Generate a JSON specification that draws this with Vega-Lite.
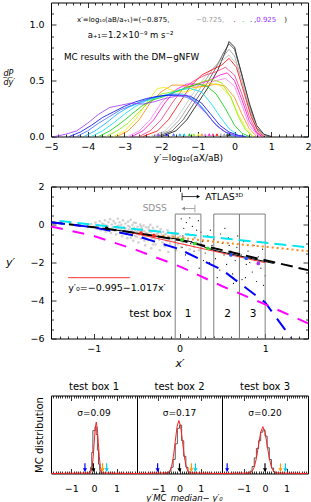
{
"$schema": "https://vega.github.io/schema/vega-lite/v6.json",
"padding": {"left": 2, "top": 1.5, "right": 0, "bottom": 0},
"bounds": "flush",
"spacing": 20,
"resolve": {"scale": {"color": "independent", "shape": "independent", "strokeDash": "independent"}},
"config": {
  "font": "DejaVu Sans",
  "view": {"stroke": "black", "strokeWidth": 1},
  "axis": {"domain": false, "grid": false, "labelFont": "DejaVu Sans", "labelFontSize": 9.5, "labelColor": "black", "tickColor": "black", "tickWidth": 0.8, "titleFont": "DejaVu Sans", "titleFontWeight": "normal", "titleColor": "black", "titleFontSize": 9, "labelFlush": false, "labelOverlap": false},
  "title": {"font": "DejaVu Sans", "fontWeight": "normal", "fontSize": 10, "color": "black"}
},
"vconcat": [
{
  "width": 257, "height": 134,
  "resolve": {"axis": {"x": "independent", "y": "independent"}},
  "layer": [
    {
      "data": {"values": [
{"c":"k0","x":-2.0,"y":0},{"c":"k0","x":-1.6,"y":0.05},{"c":"k0","x":-1.3,"y":0.15},{"c":"k0","x":-1.0,"y":0.3},{"c":"k0","x":-0.7,"y":0.45},{"c":"k0","x":-0.45,"y":0.6},{"c":"k0","x":-0.25,"y":0.76},{"c":"k0","x":-0.15,"y":0.85},{"c":"k0","x":0.0,"y":0.8},{"c":"k0","x":0.2,"y":0.55},{"c":"k0","x":0.4,"y":0.3},{"c":"k0","x":0.6,"y":0.1},{"c":"k0","x":0.8,"y":0.02},{"c":"k0","x":1.0,"y":0},
{"c":"k1","x":-2.1,"y":0},{"c":"k1","x":-1.7,"y":0.05},{"c":"k1","x":-1.4,"y":0.15},{"c":"k1","x":-1.1,"y":0.3},{"c":"k1","x":-0.8,"y":0.45},{"c":"k1","x":-0.5,"y":0.62},{"c":"k1","x":-0.3,"y":0.75},{"c":"k1","x":-0.15,"y":0.83},{"c":"k1","x":0.0,"y":0.78},{"c":"k1","x":0.2,"y":0.55},{"c":"k1","x":0.4,"y":0.28},{"c":"k1","x":0.6,"y":0.08},{"c":"k1","x":0.8,"y":0.01},{"c":"k1","x":0.95,"y":0},
{"c":"k2","x":-2.2,"y":0},{"c":"k2","x":-1.8,"y":0.05},{"c":"k2","x":-1.5,"y":0.15},{"c":"k2","x":-1.2,"y":0.3},{"c":"k2","x":-0.9,"y":0.45},{"c":"k2","x":-0.6,"y":0.6},{"c":"k2","x":-0.35,"y":0.7},{"c":"k2","x":-0.15,"y":0.78},{"c":"k2","x":0.0,"y":0.72},{"c":"k2","x":0.2,"y":0.5},{"c":"k2","x":0.4,"y":0.25},{"c":"k2","x":0.6,"y":0.07},{"c":"k2","x":0.85,"y":0},
{"c":"k3","x":-2.3,"y":0},{"c":"k3","x":-1.9,"y":0.05},{"c":"k3","x":-1.6,"y":0.15},{"c":"k3","x":-1.3,"y":0.3},{"c":"k3","x":-1.0,"y":0.45},{"c":"k3","x":-0.7,"y":0.58},{"c":"k3","x":-0.4,"y":0.66},{"c":"k3","x":-0.15,"y":0.73},{"c":"k3","x":0.05,"y":0.65},{"c":"k3","x":0.25,"y":0.45},{"c":"k3","x":0.45,"y":0.2},{"c":"k3","x":0.65,"y":0.05},{"c":"k3","x":0.85,"y":0},
{"c":"k4","x":-2.5,"y":0},{"c":"k4","x":-2.1,"y":0.05},{"c":"k4","x":-1.8,"y":0.15},{"c":"k4","x":-1.5,"y":0.3},{"c":"k4","x":-1.2,"y":0.45},{"c":"k4","x":-0.9,"y":0.55},{"c":"k4","x":-0.6,"y":0.6},{"c":"k4","x":-0.35,"y":0.64},{"c":"k4","x":-0.15,"y":0.7},{"c":"k4","x":0.05,"y":0.62},{"c":"k4","x":0.25,"y":0.4},{"c":"k4","x":0.45,"y":0.18},{"c":"k4","x":0.65,"y":0.04},{"c":"k4","x":0.8,"y":0},
{"c":"k5","x":-2.6,"y":0},{"c":"k5","x":-2.3,"y":0.05},{"c":"k5","x":-2.0,"y":0.15},{"c":"k5","x":-1.7,"y":0.3},{"c":"k5","x":-1.4,"y":0.43},{"c":"k5","x":-1.1,"y":0.5},{"c":"k5","x":-0.8,"y":0.55},{"c":"k5","x":-0.5,"y":0.58},{"c":"k5","x":-0.25,"y":0.62},{"c":"k5","x":0.0,"y":0.55},{"c":"k5","x":0.2,"y":0.38},{"c":"k5","x":0.4,"y":0.18},{"c":"k5","x":0.6,"y":0.04},{"c":"k5","x":0.75,"y":0},
{"c":"k6","x":-2.8,"y":0},{"c":"k6","x":-2.5,"y":0.05},{"c":"k6","x":-2.2,"y":0.15},{"c":"k6","x":-1.9,"y":0.3},{"c":"k6","x":-1.6,"y":0.42},{"c":"k6","x":-1.3,"y":0.47},{"c":"k6","x":-1.0,"y":0.47},{"c":"k6","x":-0.7,"y":0.5},{"c":"k6","x":-0.4,"y":0.55},{"c":"k6","x":-0.2,"y":0.57},{"c":"k6","x":0.0,"y":0.5},{"c":"k6","x":0.2,"y":0.33},{"c":"k6","x":0.4,"y":0.14},{"c":"k6","x":0.6,"y":0.03},{"c":"k6","x":0.75,"y":0},
{"c":"k7","x":-2.9,"y":0},{"c":"k7","x":-2.6,"y":0.05},{"c":"k7","x":-2.3,"y":0.15},{"c":"k7","x":-2.0,"y":0.3},{"c":"k7","x":-1.7,"y":0.4},{"c":"k7","x":-1.4,"y":0.45},{"c":"k7","x":-1.1,"y":0.45},{"c":"k7","x":-0.8,"y":0.47},{"c":"k7","x":-0.5,"y":0.5},{"c":"k7","x":-0.25,"y":0.52},{"c":"k7","x":0.0,"y":0.45},{"c":"k7","x":0.2,"y":0.28},{"c":"k7","x":0.4,"y":0.1},{"c":"k7","x":0.6,"y":0.02},{"c":"k7","x":0.7,"y":0},
{"c":"k8","x":-3.2,"y":0},{"c":"k8","x":-2.9,"y":0.05},{"c":"k8","x":-2.6,"y":0.15},{"c":"k8","x":-2.3,"y":0.3},{"c":"k8","x":-2.0,"y":0.4},{"c":"k8","x":-1.7,"y":0.46},{"c":"k8","x":-1.4,"y":0.46},{"c":"k8","x":-1.1,"y":0.44},{"c":"k8","x":-0.8,"y":0.45},{"c":"k8","x":-0.5,"y":0.47},{"c":"k8","x":-0.25,"y":0.45},{"c":"k8","x":0.0,"y":0.35},{"c":"k8","x":0.2,"y":0.2},{"c":"k8","x":0.4,"y":0.07},{"c":"k8","x":0.6,"y":0},
{"c":"k9","x":-3.3,"y":0},{"c":"k9","x":-3.0,"y":0.05},{"c":"k9","x":-2.7,"y":0.15},{"c":"k9","x":-2.4,"y":0.3},{"c":"k9","x":-2.1,"y":0.43},{"c":"k9","x":-1.9,"y":0.44},{"c":"k9","x":-1.6,"y":0.4},{"c":"k9","x":-1.3,"y":0.4},{"c":"k9","x":-1.0,"y":0.44},{"c":"k9","x":-0.7,"y":0.48},{"c":"k9","x":-0.4,"y":0.46},{"c":"k9","x":-0.1,"y":0.35},{"c":"k9","x":0.1,"y":0.2},{"c":"k9","x":0.3,"y":0.08},{"c":"k9","x":0.5,"y":0},
{"c":"k10","x":-3.5,"y":0},{"c":"k10","x":-3.2,"y":0.05},{"c":"k10","x":-2.9,"y":0.12},{"c":"k10","x":-2.6,"y":0.22},{"c":"k10","x":-2.3,"y":0.32},{"c":"k10","x":-2.0,"y":0.38},{"c":"k10","x":-1.7,"y":0.4},{"c":"k10","x":-1.4,"y":0.42},{"c":"k10","x":-1.1,"y":0.46},{"c":"k10","x":-0.8,"y":0.5},{"c":"k10","x":-0.6,"y":0.51},{"c":"k10","x":-0.35,"y":0.48},{"c":"k10","x":-0.1,"y":0.35},{"c":"k10","x":0.1,"y":0.18},{"c":"k10","x":0.3,"y":0.06},{"c":"k10","x":0.5,"y":0},
{"c":"k11","x":-3.7,"y":0},{"c":"k11","x":-3.4,"y":0.05},{"c":"k11","x":-3.1,"y":0.12},{"c":"k11","x":-2.8,"y":0.2},{"c":"k11","x":-2.5,"y":0.28},{"c":"k11","x":-2.2,"y":0.33},{"c":"k11","x":-1.9,"y":0.36},{"c":"k11","x":-1.6,"y":0.4},{"c":"k11","x":-1.3,"y":0.44},{"c":"k11","x":-1.0,"y":0.47},{"c":"k11","x":-0.75,"y":0.45},{"c":"k11","x":-0.5,"y":0.38},{"c":"k11","x":-0.25,"y":0.25},{"c":"k11","x":0.0,"y":0.1},{"c":"k11","x":0.2,"y":0.03},{"c":"k11","x":0.4,"y":0},
{"c":"k12","x":-3.9,"y":0},{"c":"k12","x":-3.6,"y":0.05},{"c":"k12","x":-3.3,"y":0.12},{"c":"k12","x":-3.0,"y":0.2},{"c":"k12","x":-2.7,"y":0.27},{"c":"k12","x":-2.4,"y":0.32},{"c":"k12","x":-2.1,"y":0.35},{"c":"k12","x":-1.8,"y":0.38},{"c":"k12","x":-1.5,"y":0.42},{"c":"k12","x":-1.2,"y":0.43},{"c":"k12","x":-0.9,"y":0.4},{"c":"k12","x":-0.65,"y":0.3},{"c":"k12","x":-0.4,"y":0.18},{"c":"k12","x":-0.15,"y":0.07},{"c":"k12","x":0.1,"y":0.01},{"c":"k12","x":0.3,"y":0},
{"c":"k13","x":-4.1,"y":0},{"c":"k13","x":-3.8,"y":0.05},{"c":"k13","x":-3.5,"y":0.12},{"c":"k13","x":-3.2,"y":0.2},{"c":"k13","x":-2.9,"y":0.26},{"c":"k13","x":-2.6,"y":0.3},{"c":"k13","x":-2.3,"y":0.34},{"c":"k13","x":-2.0,"y":0.36},{"c":"k13","x":-1.7,"y":0.38},{"c":"k13","x":-1.4,"y":0.38},{"c":"k13","x":-1.1,"y":0.33},{"c":"k13","x":-0.85,"y":0.25},{"c":"k13","x":-0.6,"y":0.14},{"c":"k13","x":-0.35,"y":0.06},{"c":"k13","x":-0.1,"y":0.01},{"c":"k13","x":0.1,"y":0},
{"c":"k14","x":-4.3,"y":0},{"c":"k14","x":-4.0,"y":0.05},{"c":"k14","x":-3.7,"y":0.12},{"c":"k14","x":-3.4,"y":0.18},{"c":"k14","x":-3.1,"y":0.24},{"c":"k14","x":-2.8,"y":0.28},{"c":"k14","x":-2.5,"y":0.32},{"c":"k14","x":-2.2,"y":0.35},{"c":"k14","x":-1.9,"y":0.37},{"c":"k14","x":-1.6,"y":0.37},{"c":"k14","x":-1.3,"y":0.35},{"c":"k14","x":-1.0,"y":0.3},{"c":"k14","x":-0.75,"y":0.2},{"c":"k14","x":-0.5,"y":0.1},{"c":"k14","x":-0.25,"y":0.04},{"c":"k14","x":0.0,"y":0.01},{"c":"k14","x":0.2,"y":0},
{"c":"k15","x":-4.5,"y":0},{"c":"k15","x":-4.2,"y":0.04},{"c":"k15","x":-3.9,"y":0.1},{"c":"k15","x":-3.6,"y":0.17},{"c":"k15","x":-3.3,"y":0.22},{"c":"k15","x":-3.0,"y":0.27},{"c":"k15","x":-2.7,"y":0.31},{"c":"k15","x":-2.4,"y":0.34},{"c":"k15","x":-2.1,"y":0.36},{"c":"k15","x":-1.8,"y":0.37},{"c":"k15","x":-1.5,"y":0.37},{"c":"k15","x":-1.2,"y":0.36},{"c":"k15","x":-0.9,"y":0.3},{"c":"k15","x":-0.65,"y":0.2},{"c":"k15","x":-0.4,"y":0.1},{"c":"k15","x":-0.15,"y":0.04},{"c":"k15","x":0.1,"y":0.01},{"c":"k15","x":0.3,"y":0},
{"c":"k16","x":-4.9,"y":0},{"c":"k16","x":-4.6,"y":0.02},{"c":"k16","x":-4.3,"y":0.05},{"c":"k16","x":-4.0,"y":0.12},{"c":"k16","x":-3.7,"y":0.2},{"c":"k16","x":-3.4,"y":0.26},{"c":"k16","x":-3.1,"y":0.28},{"c":"k16","x":-2.8,"y":0.3},{"c":"k16","x":-2.5,"y":0.29},{"c":"k16","x":-2.2,"y":0.31},{"c":"k16","x":-1.9,"y":0.34},{"c":"k16","x":-1.6,"y":0.36},{"c":"k16","x":-1.3,"y":0.37},{"c":"k16","x":-1.0,"y":0.28},{"c":"k16","x":-0.75,"y":0.2},{"c":"k16","x":-0.5,"y":0.1},{"c":"k16","x":-0.25,"y":0.04},{"c":"k16","x":0.0,"y":0.01},{"c":"k16","x":0.2,"y":0}
      ]},
      "mark": {"type": "line", "strokeWidth": 0.8},
      "encoding": {
        "x": {"field": "x", "type": "quantitative", "scale": {"domain": [-5, 2], "nice": false, "zero": false},
              "axis": {"orient": "bottom", "values": [-5,-4,-3,-2,-1,0,1,2], "tickSize": -5, "labelPadding": 9.5, "title": "y′=log₁₀(aX/aB)", "titleX": 137, "titleY": 21, "titleAlign": "center", "titleBaseline": "middle"}},
        "y": {"field": "y", "type": "quantitative", "scale": {"domain": [0, 1.2], "nice": false},
              "axis": {"orient": "left", "values": [0, 0.5, 1], "tickSize": -5, "labelPadding": 12, "title": ["d̲P̲", "dy′"], "titleAngle": 0, "titleX": -48, "titleY": 71, "titleAlign": "left", "titleBaseline": "middle", "titleLineHeight": 9, "titleFontSize": 8, "titleFontStyle": "italic"}},
        "color": {"field": "c", "type": "nominal", "legend": null,
                  "scale": {"domain": ["k0","k1","k2","k3","k4","k5","k6","k7","k8","k9","k10","k11","k12","k13","k14","k15","k16"],
                            "range": ["#000000","#444444","#999999","#c0c0c0","#ff0000","#ff3377","#ff00cc","#ff77ff","#ff8800","#eeee00","#88ee00","#00cc00","#00ddee","#00aaff","#3366ff","#0000ee","#9933ff"]}}
      }
    },
    {
      "data": {"values": [
        {"c":"k16","x":-2.08,"y":0},{"c":"k15","x":-1.85,"y":0},{"c":"k14","x":-1.66,"y":0},{"c":"k13","x":-1.49,"y":0},{"c":"k12","x":-1.37,"y":0},{"c":"k11","x":-1.23,"y":0},{"c":"k10","x":-1.11,"y":0},{"c":"k9","x":-0.99,"y":0},{"c":"k8","x":-0.89,"y":0},{"c":"k7","x":-0.8,"y":0},{"c":"k6","x":-0.69,"y":0},{"c":"k5","x":-0.59,"y":0},{"c":"k4","x":-0.48,"y":0},{"c":"k3","x":-0.37,"y":0},{"c":"k2","x":-0.28,"y":0},{"c":"k1","x":-0.2,"y":0},{"c":"k0","x":-0.14,"y":0}
      ]},
      "mark": {"type": "point", "shape": "triangle-up", "filled": true, "size": 10, "opacity": 1, "yOffset": -2},
      "encoding": {
        "x": {"field": "x", "type": "quantitative", "scale": {"domain": [-5, 2], "nice": false, "zero": false},
              "axis": {"orient": "bottom", "values": [-4.8,-4.6,-4.4,-4.2,-3.8,-3.6,-3.4,-3.2,-2.8,-2.6,-2.4,-2.2,-1.8,-1.6,-1.4,-1.2,-0.8,-0.6,-0.4,-0.2,0.2,0.4,0.6,0.8,1.2,1.4,1.6,1.8], "tickSize": -2.5, "labels": false, "title": null}},
        "y": {"field": "y", "type": "quantitative", "scale": {"domain": [0, 1.2], "nice": false},
              "axis": {"orient": "left", "values": [0.1,0.2,0.3,0.4,0.6,0.7,0.8,0.9,1.1], "tickSize": -2.5, "labels": false, "title": null}},
        "color": {"field": "c", "type": "nominal", "legend": null,
                  "scale": {"domain": ["k0","k1","k2","k3","k4","k5","k6","k7","k8","k9","k10","k11","k12","k13","k14","k15","k16"],
                            "range": ["#000000","#444444","#999999","#c0c0c0","#ff0000","#ff3377","#ff00cc","#ff77ff","#ff8800","#eeee00","#88ee00","#00cc00","#00ddee","#00aaff","#3366ff","#0000ee","#9933ff"]}}
      }
    },
    {
      "data": {"values": [
        {"x":-4.29,"y":1.039,"t":"x′=log₁₀(aB/a₊₁)=(−0.875,","c":"k0"},
        {"x":-1.05,"y":1.039,"t":"−0.725,","c":"k2"},
        {"x":-0.03,"y":1.039,"t":".","c":"k4"},
        {"x":0.2,"y":1.039,"t":".","c":"k11"},
        {"x":0.42,"y":1.039,"t":".","c":"k15"},
        {"x":0.53,"y":1.039,"t":",","c":"k0"},
        {"x":0.59,"y":1.039,"t":"0.925","c":"k16"},
        {"x":1.35,"y":1.039,"t":")","c":"k0"}
      ]},
      "mark": {"type": "text", "align": "left", "baseline": "middle", "fontSize": 7, "font": "DejaVu Sans"},
      "encoding": {
        "x": {"field": "x", "type": "quantitative", "scale": {"domain": [-5, 2], "nice": false, "zero": false},
              "axis": {"orient": "top", "values": [-5,-4,-3,-2,-1,0,1,2], "tickSize": -5, "labels": false, "title": null}},
        "y": {"field": "y", "type": "quantitative", "scale": {"domain": [0, 1.2], "nice": false},
              "axis": {"orient": "right", "values": [0, 0.5, 1], "tickSize": -5, "labels": false, "title": null}},
        "text": {"field": "t"},
        "color": {"field": "c", "type": "nominal", "legend": null,
                  "scale": {"domain": ["k0","k1","k2","k3","k4","k5","k6","k7","k8","k9","k10","k11","k12","k13","k14","k15","k16"],
                            "range": ["#000000","#444444","#999999","#c0c0c0","#ff0000","#ff3377","#ff00cc","#ff77ff","#ff8800","#eeee00","#88ee00","#00cc00","#00ddee","#00aaff","#3366ff","#0000ee","#9933ff"]}}
      }
    },
    {
      "data": {"values": [
        {"x":-4.0,"y":0.913,"t":"a₊₁=1.2×10⁻⁹ m s⁻²"}
      ]},
      "mark": {"type": "text", "align": "left", "baseline": "middle", "font": "DejaVu Sans", "fontSize": 8.5, "color": "black"},
      "encoding": {
        "x": {"field": "x", "type": "quantitative", "scale": {"domain": [-5, 2], "nice": false, "zero": false},
              "axis": {"orient": "top", "values": [-4.8,-4.6,-4.4,-4.2,-3.8,-3.6,-3.4,-3.2,-2.8,-2.6,-2.4,-2.2,-1.8,-1.6,-1.4,-1.2,-0.8,-0.6,-0.4,-0.2,0.2,0.4,0.6,0.8,1.2,1.4,1.6,1.8], "tickSize": -2.5, "labels": false, "title": null}},
        "y": {"field": "y", "type": "quantitative", "scale": {"domain": [0, 1.2], "nice": false},
              "axis": {"orient": "right", "values": [0.1,0.2,0.3,0.4,0.6,0.7,0.8,0.9,1.1], "tickSize": -2.5, "labels": false, "title": null}},
        "text": {"field": "t"}
      }
    },
    {
      "data": {"values": [
        {"x":-4.646,"y":0.71,"t":"MC results with the DM−gNFW"}
      ]},
      "mark": {"type": "text", "align": "left", "baseline": "middle", "font": "DejaVu Sans", "fontSize": 8.8, "color": "black"},
      "encoding": {
        "x": {"field": "x", "type": "quantitative", "axis": null},
        "y": {"field": "y", "type": "quantitative", "axis": null},
        "text": {"field": "t"}
      }
    }
  ]
},
{"width": 10, "height": 10, "data": {"values": [{"a": 0}]}, "mark": {"type": "point", "opacity": 0}, "view": {"stroke": null}},
{
  "width": 257, "height": 152,
  "resolve": {"axis": {"x": "independent", "y": "independent"}},
  "layer": [
    {
      "data": {"values": [
{"x":-1.03,"y":0.02},{"x":-1.0,"y":-0.12},{"x":-0.98,"y":0.1},{"x":-0.97,"y":-0.22},{"x":-0.95,"y":-0.03},{"x":-0.93,"y":0.17},{"x":-0.92,"y":-0.3},{"x":-0.9,"y":0.05},{"x":-0.89,"y":-0.14},{"x":-0.87,"y":0.22},{"x":-0.86,"y":-0.38},{"x":-0.85,"y":-0.06},{"x":-0.83,"y":0.12},{"x":-0.82,"y":-0.24},{"x":-0.81,"y":0.28},{"x":-0.8,"y":-0.45},{"x":-0.79,"y":0.0},{"x":-0.78,"y":-0.16},
{"x":-0.77,"y":0.18},{"x":-0.76,"y":-0.32},{"x":-0.75,"y":0.06},{"x":-0.74,"y":-0.52},{"x":-0.73,"y":-0.1},{"x":-0.72,"y":0.3},{"x":-0.71,"y":-0.22},{"x":-0.7,"y":0.12},{"x":-0.69,"y":-0.4},{"x":-0.68,"y":-0.02},{"x":-0.67,"y":-0.62},{"x":-0.66,"y":0.22},{"x":-0.65,"y":-0.15},{"x":-0.64,"y":-0.3},{"x":-0.63,"y":0.05},{"x":-0.62,"y":-0.5},{"x":-0.61,"y":-0.72},{"x":-0.6,"y":0.15},{"x":-0.6,"y":-0.08},
{"x":-0.59,"y":-0.25},{"x":-0.58,"y":-0.4},{"x":-0.57,"y":0.25},{"x":-0.56,"y":-0.58},{"x":-0.55,"y":-0.02},{"x":-0.54,"y":-0.85},{"x":-0.53,"y":-0.18},{"x":-0.52,"y":-0.33},{"x":-0.51,"y":0.08},{"x":-0.5,"y":-0.48},{"x":-0.5,"y":-0.65},{"x":-0.49,"y":-0.12},{"x":-0.48,"y":-0.95},{"x":-0.47,"y":-0.27},{"x":-0.46,"y":0.0},{"x":-0.46,"y":-0.42},{"x":-0.45,"y":-0.75},{"x":-0.44,"y":-0.2},{"x":-0.43,"y":-0.55},
{"x":-0.42,"y":-0.05},{"x":-0.41,"y":-0.35},{"x":-0.4,"y":-0.68},{"x":-0.4,"y":-1.1},{"x":-0.39,"y":-0.15},{"x":-0.38,"y":-0.48},{"x":-0.37,"y":-0.82},{"x":-0.36,"y":-0.28},{"x":-0.35,"y":-0.6},{"x":-0.34,"y":-0.02},{"x":-0.33,"y":-1.25},{"x":-0.33,"y":-0.4},{"x":-0.32,"y":-0.72},{"x":-0.31,"y":-0.18},{"x":-0.3,"y":-0.9},{"x":-0.3,"y":-0.52},
{"x":-0.29,"y":-0.32},{"x":-0.28,"y":-1.05},{"x":-0.27,"y":-0.62},{"x":-0.26,"y":-0.12},{"x":-0.25,"y":-0.45},{"x":-0.24,"y":-0.8},{"x":-0.23,"y":-1.35},{"x":-0.22,"y":-0.25},{"x":-0.21,"y":-0.58},{"x":-0.2,"y":-0.95},{"x":-0.19,"y":-0.38},{"x":-0.18,"y":-0.7},{"x":-0.17,"y":-1.15},{"x":-0.16,"y":-0.5},{"x":-0.15,"y":-0.85},
{"x":-0.14,"y":-0.3},{"x":-0.13,"y":-1.45},{"x":-0.12,"y":-0.65},{"x":-0.11,"y":-1.0},{"x":-0.1,"y":-0.45},{"x":-0.09,"y":-0.78},{"x":-0.08,"y":-1.2},{"x":-0.07,"y":-0.55},{"x":-0.06,"y":-0.92},{"x":-0.05,"y":-0.68},{"x":-0.04,"y":-1.35},{"x":-0.03,"y":-0.5},{"x":-0.02,"y":-1.05},{"x":0.0,"y":-0.8},{"x":0.01,"y":-0.62},{"x":0.02,"y":-1.2},{"x":0.04,"y":-0.95},{"x":0.06,"y":-0.72},{"x":0.08,"y":-1.1},{"x":0.1,"y":-0.88},{"x":0.12,"y":-1.3},{"x":0.14,"y":-1.0},{"x":0.17,"y":-1.18},{"x":0.2,"y":-0.95},{"x":0.23,"y":-1.35},{"x":0.27,"y":-1.15},
{"x":-0.68,"y":-0.25},{"x":-0.66,"y":-0.42},{"x":-0.63,"y":-0.2},{"x":-0.61,"y":-0.35},{"x":-0.58,"y":-0.12},{"x":-0.56,"y":-0.3},{"x":-0.54,"y":-0.45},{"x":-0.52,"y":-0.6},{"x":-0.49,"y":-0.36},{"x":-0.47,"y":-0.52},{"x":-0.44,"y":-0.4},{"x":-0.42,"y":-0.62},{"x":-0.39,"y":-0.45},{"x":-0.37,"y":-0.58},{"x":-0.35,"y":-0.38},{"x":-0.32,"y":-0.6},{"x":-0.29,"y":-0.75},{"x":-0.27,"y":-0.5},{"x":-0.25,"y":-0.65},{"x":-0.71,"y":-0.05},{"x":-0.74,"y":-0.2},{"x":-0.79,"y":-0.28},{"x":-0.84,"y":-0.1},{"x":-0.88,"y":0.0},{"x":-0.57,"y":-0.7},{"x":-0.53,"y":0.1},{"x":-0.45,"y":-0.1},{"x":-0.41,"y":-0.85},{"x":-0.36,"y":-0.15},{"x":-0.31,"y":-1.05},{"x":-0.22,"y":-0.42},{"x":-0.18,"y":-0.55},{"x":-0.12,"y":-0.82},{"x":-0.09,"y":-0.6}
      ]},
      "mark": {"type": "circle", "size": 7, "color": "#b4b4b4", "opacity": 0.6},
      "encoding": {
        "x": {"field": "x", "type": "quantitative", "scale": {"domain": [-1.5, 1.5], "nice": false, "zero": false},
              "axis": {"orient": "bottom", "values": [-1, 0, 1], "tickSize": -5, "labelPadding": 9.5, "title": "x′", "titleX": 128.5, "titleY": 25, "titleAlign": "center", "titleBaseline": "middle", "titleFontSize": 11, "titleFontStyle": "italic"}},
        "y": {"field": "y", "type": "quantitative", "scale": {"domain": [-6, 2], "nice": false, "zero": false},
              "axis": {"orient": "left", "values": [-6, -4, -2, 0, 2], "tickSize": -5, "labelPadding": 12, "title": "y′", "titleAngle": 0, "titleX": -41, "titleY": 76, "titleAlign": "center", "titleBaseline": "middle", "titleFontSize": 11, "titleFontStyle": "italic"}}
      }
    },
    {
      "data": {"values": [
{"x":0.02,"y":0.3},{"x":0.05,"y":-0.2},{"x":0.08,"y":0.1},{"x":0.1,"y":-0.5},{"x":0.12,"y":0.35},{"x":0.15,"y":-0.1},{"x":0.18,"y":-0.7},{"x":0.22,"y":0.2},{"x":0.25,"y":-0.4},{"x":0.03,"y":-1.2},{"x":0.07,"y":-1.6},{"x":0.13,"y":-1.0},{"x":0.17,"y":-1.4},{"x":0.2,"y":-0.3},{"x":0.27,"y":-0.9},{"x":0.3,"y":-1.5},{"x":0.33,"y":-0.6},{"x":0.35,"y":-2.0},{"x":0.38,"y":-1.1},{"x":0.4,"y":-0.8},{"x":0.42,"y":-1.8},{"x":0.45,"y":-1.3},{"x":0.47,"y":-2.4},{"x":0.5,"y":-1.0},{"x":0.52,"y":-1.6},{"x":0.55,"y":-2.1},{"x":0.57,"y":-0.7},{"x":0.6,"y":-1.4},{"x":0.62,"y":-2.6},{"x":0.65,"y":-1.9},{"x":0.67,"y":-1.2},{"x":0.7,"y":-2.2},{"x":0.72,"y":-1.6},{"x":0.75,"y":-0.9},{"x":0.77,"y":-2.8},{"x":0.8,"y":-1.4},{"x":0.82,"y":-2.0},{"x":0.85,"y":-2.5},{"x":0.87,"y":-1.1},{"x":0.9,"y":-3.0},{"x":0.92,"y":-1.7},{"x":0.95,"y":-2.3},{"x":0.97,"y":-1.3},{"x":1.0,"y":-2.7},{"x":0.1,"y":-1.9},{"x":0.23,"y":-2.3},{"x":0.36,"y":-0.3},{"x":0.48,"y":-0.5},{"x":0.58,"y":-1.1},{"x":0.68,"y":-0.6},{"x":0.78,"y":-2.1},{"x":0.88,"y":-1.9},{"x":0.98,"y":-3.2},{"x":0.04,"y":-0.6},{"x":0.14,"y":-0.9},{"x":0.28,"y":-1.9},{"x":0.44,"y":-2.8},{"x":0.53,"y":-0.2},{"x":0.63,"y":-3.1},{"x":0.73,"y":-2.9}
      ]},
      "mark": {"type": "circle", "size": 1.5, "color": "black", "opacity": 1},
      "encoding": {
        "x": {"field": "x", "type": "quantitative", "scale": {"domain": [-1.5, 1.5], "nice": false, "zero": false},
              "axis": {"orient": "bottom", "values": [-1.4,-1.3,-1.2,-1.1,-0.9,-0.8,-0.7,-0.6,-0.5,-0.4,-0.3,-0.2,-0.1,0.1,0.2,0.3,0.4,0.5,0.6,0.7,0.8,0.9,1.1,1.2,1.3,1.4], "tickSize": -2.5, "labels": false, "title": null}},
        "y": {"field": "y", "type": "quantitative", "scale": {"domain": [-6, 2], "nice": false, "zero": false},
              "axis": {"orient": "left", "values": [-5.5,-5,-4.5,-3.5,-3,-2.5,-1.5,-1,-0.5,0.5,1,1.5], "tickSize": -2.5, "labels": false, "title": null}}
      }
    },
    {
      "data": {"values": [
        {"x":-0.05,"x2":0.25,"y":-6,"y2":0.55},
        {"x":0.4,"x2":0.7,"y":-6,"y2":0.55},
        {"x":0.7,"x2":1.0,"y":-6,"y2":0.55}
      ]},
      "mark": {"type": "rect", "fillOpacity": 0, "stroke": "#808080", "strokeWidth": 1},
      "encoding": {
        "x": {"field": "x", "type": "quantitative", "scale": {"domain": [-1.5, 1.5], "nice": false, "zero": false},
              "axis": {"orient": "top", "values": [-1, 0, 1], "tickSize": -5, "labels": false, "title": null}},
        "x2": {"field": "x2"},
        "y": {"field": "y", "type": "quantitative", "scale": {"domain": [-6, 2], "nice": false, "zero": false},
              "axis": {"orient": "right", "values": [-6, -4, -2, 0, 2], "tickSize": -5, "labels": false, "title": null}},
        "y2": {"field": "y2"}
      }
    },
    {
      "data": {"values": [
        {"s":"cy","x":-1.4,"y":0.18},{"s":"cy","x":-0.5,"y":-0.25},{"s":"cy","x":0.5,"y":-0.72},{"s":"cy","x":1.5,"y":-1.2},
        {"s":"or","x":-0.55,"y":-0.45},{"s":"or","x":0.0,"y":-0.7},{"s":"or","x":0.5,"y":-0.95},{"s":"or","x":1.0,"y":-1.17},{"s":"or","x":1.5,"y":-1.4},
        {"s":"bk","x":-1.5,"y":0.12},{"s":"bk","x":-0.9,"y":-0.2},{"s":"bk","x":-0.5,"y":-0.45},{"s":"bk","x":0.0,"y":-0.82},{"s":"bk","x":0.5,"y":-1.35},{"s":"bk","x":1.0,"y":-1.88},{"s":"bk","x":1.5,"y":-2.4},
        {"s":"bl","x":-1.5,"y":0.12},{"s":"bl","x":-1.0,"y":-0.15},{"s":"bl","x":-0.5,"y":-0.6},{"s":"bl","x":0.0,"y":-1.3},{"s":"bl","x":0.5,"y":-2.4},{"s":"bl","x":1.0,"y":-4.1},{"s":"bl","x":1.3,"y":-5.95},
        {"s":"mg","x":-1.5,"y":-0.1},{"s":"mg","x":-1.0,"y":-0.6},{"s":"mg","x":-0.5,"y":-1.35},{"s":"mg","x":0.0,"y":-2.2},{"s":"mg","x":0.5,"y":-3.25},{"s":"mg","x":1.0,"y":-4.2},{"s":"mg","x":1.5,"y":-5.2}
      ]},
      "mark": {"type": "line", "strokeWidth": 2},
      "encoding": {
        "x": {"field": "x", "type": "quantitative", "scale": {"domain": [-1.5, 1.5], "nice": false, "zero": false},
              "axis": {"orient": "top", "values": [-1.4,-1.3,-1.2,-1.1,-0.9,-0.8,-0.7,-0.6,-0.5,-0.4,-0.3,-0.2,-0.1,0.1,0.2,0.3,0.4,0.5,0.6,0.7,0.8,0.9,1.1,1.2,1.3,1.4], "tickSize": -2.5, "labels": false, "title": null}},
        "y": {"field": "y", "type": "quantitative", "scale": {"domain": [-6, 2], "nice": false, "zero": false},
              "axis": {"orient": "right", "values": [-5.5,-5,-4.5,-3.5,-3,-2.5,-1.5,-1,-0.5,0.5,1,1.5], "tickSize": -2.5, "labels": false, "title": null}},
        "color": {"field": "s", "type": "nominal", "legend": null,
                  "scale": {"domain": ["cy","or","bk","bl","mg","dk","dr","dg","db","dp","sd","at"],
                            "range": ["#00e5ee","#ff8c1a","#000000","#0000ff","#ff00ff","#000000","#ff2020","#33dd33","#2255ff","#aa33ff","#909090","#000000"]}},
        "strokeDash": {"field": "s", "type": "nominal", "legend": null,
                  "scale": {"domain": ["cy","or","bk","bl","mg"], "range": [[12,6],[2,3],[12,6],[14,9],[12,10]]}}
      }
    },
    {
      "data": {"values": [{"x":-0.55,"y":-0.436},{"x":1.0,"y":-2.012}]},
      "mark": {"type": "line", "color": "#ff3030", "strokeWidth": 1},
      "encoding": {
        "x": {"field": "x", "type": "quantitative", "axis": null},
        "y": {"field": "y", "type": "quantitative", "axis": null}
      }
    },
    {
      "data": {"values": [
        {"x":-0.9,"y":-0.2},{"x":-0.6,"y":-0.38},{"x":-0.3,"y":-0.6},{"x":0.0,"y":-0.78},{"x":0.1,"y":-0.87},{"x":0.2,"y":-1.0},{"x":0.3,"y":-1.2},{"x":0.4,"y":-1.35},{"x":0.55,"y":-1.5},{"x":0.7,"y":-1.65},{"x":0.85,"y":-1.8},{"x":1.0,"y":-1.95},{"x":1.1,"y":-2.05}
      ]},
      "mark": {"type": "line", "color": "black", "strokeWidth": 1},
      "encoding": {
        "x": {"field": "x", "type": "quantitative", "axis": null},
        "y": {"field": "y", "type": "quantitative", "axis": null}
      }
    },
    {
      "data": {"values": [
        {"x":-0.85,"y":-0.2,"s":"dk"},{"x":-0.45,"y":-0.45,"s":"dr"},{"x":-0.3,"y":-0.58,"s":"dr"},{"x":0.03,"y":-0.8,"s":"dg"},{"x":0.18,"y":-1.0,"s":"dg"},{"x":0.33,"y":-1.25,"s":"dg"},{"x":0.6,"y":-1.6,"s":"db"},{"x":0.78,"y":-1.78,"s":"db"},{"x":0.92,"y":-2.05,"s":"dp"}
      ]},
      "mark": {"type": "circle", "size": 14, "opacity": 1},
      "encoding": {
        "x": {"field": "x", "type": "quantitative", "axis": null},
        "y": {"field": "y", "type": "quantitative", "axis": null},
        "color": {"field": "s", "type": "nominal", "legend": null,
                  "scale": {"domain": ["cy","or","bk","bl","mg","dk","dr","dg","db","dp","sd","at"],
                            "range": ["#00e5ee","#ff8c1a","#000000","#0000ff","#ff00ff","#000000","#ff2020","#33dd33","#2255ff","#aa33ff","#909090","#000000"]}}
      }
    },
    {
      "data": {"values": [{"x":-1.3,"x2":-0.58,"y":-2.8}]},
      "mark": {"type": "rule", "color": "#ff3030", "strokeWidth": 1},
      "encoding": {
        "x": {"field": "x", "type": "quantitative", "axis": null},
        "x2": {"field": "x2"},
        "y": {"field": "y", "type": "quantitative", "axis": null}
      }
    },
    {
      "data": {"values": [{"x":0.03,"x2":0.18,"y":0.84,"s":"sd"},{"x":0.03,"x2":0.23,"y":1.47,"s":"at"}]},
      "mark": {"type": "rule", "strokeWidth": 0.8},
      "encoding": {
        "x": {"field": "x", "type": "quantitative", "axis": null},
        "x2": {"field": "x2"},
        "y": {"field": "y", "type": "quantitative", "axis": null},
        "color": {"field": "s", "type": "nominal", "legend": null,
                  "scale": {"domain": ["cy","or","bk","bl","mg","dk","dr","dg","db","dp","sd","at"],
                            "range": ["#00e5ee","#ff8c1a","#000000","#0000ff","#ff00ff","#000000","#ff2020","#33dd33","#2255ff","#aa33ff","#909090","#000000"]}}
      }
    },
    {
      "data": {"values": [{"x":0.18,"y":0.64,"y2":1.04,"s":"sd"},{"x":0.03,"y":1.27,"y2":1.67,"s":"at"}]},
      "mark": {"type": "rule", "strokeWidth": 0.8},
      "encoding": {
        "x": {"field": "x", "type": "quantitative", "axis": null},
        "y": {"field": "y", "type": "quantitative", "axis": null},
        "y2": {"field": "y2"},
        "color": {"field": "s", "type": "nominal", "legend": null,
                  "scale": {"domain": ["cy","or","bk","bl","mg","dk","dr","dg","db","dp","sd","at"],
                            "range": ["#00e5ee","#ff8c1a","#000000","#0000ff","#ff00ff","#000000","#ff2020","#33dd33","#2255ff","#aa33ff","#909090","#000000"]}}
      }
    },
    {
      "data": {"values": [{"x":0.045,"y":0.84,"s":"sd","d":"l"},{"x":0.22,"y":1.47,"s":"at","d":"r"}]},
      "mark": {"type": "point", "filled": true, "size": 14, "opacity": 1},
      "encoding": {
        "x": {"field": "x", "type": "quantitative", "axis": null},
        "y": {"field": "y", "type": "quantitative", "axis": null},
        "color": {"field": "s", "type": "nominal", "legend": null,
                  "scale": {"domain": ["cy","or","bk","bl","mg","dk","dr","dg","db","dp","sd","at"],
                            "range": ["#00e5ee","#ff8c1a","#000000","#0000ff","#ff00ff","#000000","#ff2020","#33dd33","#2255ff","#aa33ff","#909090","#000000"]}},
        "shape": {"field": "d", "type": "nominal", "legend": null, "scale": {"domain": ["l","r"], "range": ["triangle-left","triangle-right"]}}
      }
    },
    {
      "data": {"values": [{"x":-0.34,"y":-4.7,"t":"test box"},{"x":0.1,"y":-4.7,"t":"1"},{"x":0.56,"y":-4.7,"t":"2"},{"x":0.86,"y":-4.7,"t":"3"}]},
      "mark": {"type": "text", "align": "center", "baseline": "middle", "fontSize": 10.5, "font": "DejaVu Sans", "color": "black"},
      "encoding": {
        "x": {"field": "x", "type": "quantitative", "axis": null},
        "y": {"field": "y", "type": "quantitative", "axis": null},
        "text": {"field": "t"}
      }
    },
    {
      "data": {"values": [{"x":-0.29,"y":0.86,"t":"SDSS"}]},
      "mark": {"type": "text", "align": "center", "baseline": "middle", "fontSize": 9, "font": "DejaVu Sans", "color": "#909090"},
      "encoding": {
        "x": {"field": "x", "type": "quantitative", "axis": null},
        "y": {"field": "y", "type": "quantitative", "axis": null},
        "text": {"field": "t"}
      }
    },
    {
      "data": {"values": [{"x":0.3,"y":1.44,"t":"ATLAS³ᴰ"},{"x":-1.3,"y":-3.32,"t":"y′₀=−0.995−1.017x′"}]},
      "mark": {"type": "text", "align": "left", "baseline": "middle", "fontSize": 9.5, "font": "DejaVu Sans", "color": "black"},
      "encoding": {
        "x": {"field": "x", "type": "quantitative", "axis": null},
        "y": {"field": "y", "type": "quantitative", "axis": null},
        "text": {"field": "t"}
      }
    }
  ]
},
{"width": 10, "height": 17, "data": {"values": [{"a": 0}]}, "mark": {"type": "point", "opacity": 0}, "view": {"stroke": null}},
{
  "resolve": {"scale": {"color": "independent"}},
  "hconcat": [
    {
      "width": 86, "height": 78,
      "title": {"text": "test box 1", "fontSize": 10, "offset": 3, "anchor": "middle"},
      "resolve": {"axis": {"x": "independent", "y": "independent"}},
      "layer": [
        {
          "data": {"values": [{"x":-0.25,"y":0},{"x":-0.2,"y":0.03},{"x":-0.15,"y":0.08},{"x":-0.1,"y":0.27},{"x":-0.05,"y":0.55},{"x":0.0,"y":0.55},{"x":0.05,"y":0.6},{"x":0.1,"y":0.5},{"x":0.15,"y":0.3},{"x":0.2,"y":0.12},{"x":0.25,"y":0.04},{"x":0.3,"y":0.01},{"x":0.35,"y":0}]},
          "mark": {"type": "line", "interpolate": "step-after", "color": "#333333", "strokeWidth": 0.8},
          "encoding": {
            "x": {"field": "x", "type": "quantitative", "scale": {"domain": [-1.9, 1.9], "nice": false, "zero": false},
                  "axis": {"orient": "bottom", "values": [-1, 0, 1], "tickSize": -5, "labelPadding": 14.5, "title": null}},
            "y": {"field": "y", "type": "quantitative", "scale": {"domain": [0, 1], "nice": false},
                  "axis": {"orient": "left", "ticks": false, "labels": false, "title": "MC distribution", "titleAngle": 270, "titleX": -12, "titleY": 39, "titleAlign": "center", "titleBaseline": "middle", "titleFontSize": 10}}
          }
        },
        {
          "data": {"values": [{"x":-1.9,"y":0},{"x":-0.17,"y":0.007},{"x":-0.125,"y":0.029},{"x":-0.08,"y":0.089},{"x":-0.035,"y":0.214},{"x":0.01,"y":0.4},{"x":0.055,"y":0.582},{"x":0.1,"y":0.66},{"x":0.145,"y":0.582},{"x":0.19,"y":0.4},{"x":0.235,"y":0.214},{"x":0.28,"y":0.089},{"x":0.325,"y":0.029},{"x":0.37,"y":0.007},{"x":1.9,"y":0}]},
          "mark": {"type": "line", "color": "#ff2020", "strokeWidth": 1},
          "encoding": {
            "x": {"field": "x", "type": "quantitative", "scale": {"domain": [-1.9, 1.9], "nice": false, "zero": false},
                  "axis": {"orient": "bottom", "values": [-1.8,-1.7,-1.6,-1.5,-1.4,-1.3,-1.2,-1.1,-0.9,-0.8,-0.7,-0.6,-0.5,-0.4,-0.3,-0.2,-0.1,0.1,0.2,0.3,0.4,0.5,0.6,0.7,0.8,0.9,1.1,1.2,1.3,1.4,1.5,1.6,1.7,1.8], "tickSize": -2.5, "labels": false, "title": null}},
            "y": {"field": "y", "type": "quantitative", "scale": {"domain": [0, 1], "nice": false}, "axis": null}
          }
        },
        {
          "data": {"values": [{"x":-0.4,"c":"b"},{"x":-0.03,"c":"k"},{"x":0.38,"c":"o"},{"x":0.56,"c":"c"}]},
          "mark": {"type": "rule", "strokeWidth": 1.2},
          "encoding": {
            "x": {"field": "x", "type": "quantitative", "scale": {"domain": [-1.9, 1.9], "nice": false, "zero": false},
                  "axis": {"orient": "top", "values": [-1, 0, 1], "tickSize": -5, "labels": false, "title": null}},
            "y": {"datum": 0.13, "type": "quantitative", "scale": {"domain": [0, 1], "nice": false}, "axis": null},
            "y2": {"datum": 0.03},
            "color": {"field": "c", "type": "nominal", "legend": null, "scale": {"domain": ["b","k","o","c"], "range": ["#0000ff","#000000","#ff9900","#00ccee"]}}
          }
        },
        {
          "data": {"values": [{"x":-0.4,"c":"b"},{"x":-0.03,"c":"k"},{"x":0.38,"c":"o"},{"x":0.56,"c":"c"}]},
          "mark": {"type": "point", "shape": "triangle-down", "filled": true, "size": 18, "opacity": 1},
          "encoding": {
            "x": {"field": "x", "type": "quantitative", "scale": {"domain": [-1.9, 1.9], "nice": false, "zero": false},
                  "axis": {"orient": "top", "values": [-1.8,-1.7,-1.6,-1.5,-1.4,-1.3,-1.2,-1.1,-0.9,-0.8,-0.7,-0.6,-0.5,-0.4,-0.3,-0.2,-0.1,0.1,0.2,0.3,0.4,0.5,0.6,0.7,0.8,0.9,1.1,1.2,1.3,1.4,1.5,1.6,1.7,1.8], "tickSize": -2.5, "labels": false, "title": null}},
            "y": {"datum": 0.045, "type": "quantitative", "scale": {"domain": [0, 1], "nice": false}, "axis": null},
            "color": {"field": "c", "type": "nominal", "legend": null, "scale": {"domain": ["b","k","o","c"], "range": ["#0000ff","#000000","#ff9900","#00ccee"]}}
          }
        },
        {
          "data": {"values": [{"x":0,"y":0.78,"t":"σ=0.09"}]},
          "mark": {"type": "text", "fontSize": 9, "font": "DejaVu Sans", "color": "black", "align": "center", "baseline": "middle"},
          "encoding": {
            "x": {"field": "x", "type": "quantitative", "axis": null},
            "y": {"field": "y", "type": "quantitative", "axis": null},
            "text": {"field": "t"}
          }
        }
      ]
    },
    {
      "width": 85, "height": 78,
      "title": {"text": "test box 2", "fontSize": 10, "offset": 3, "anchor": "middle"},
      "resolve": {"axis": {"x": "independent", "y": "independent"}},
      "layer": [
        {
          "data": {"values": [{"x":-0.7,"y":0},{"x":-0.6,"y":0.01},{"x":-0.5,"y":0.03},{"x":-0.4,"y":0.08},{"x":-0.3,"y":0.18},{"x":-0.2,"y":0.38},{"x":-0.1,"y":0.58},{"x":0.0,"y":0.62},{"x":0.1,"y":0.42},{"x":0.2,"y":0.22},{"x":0.3,"y":0.08},{"x":0.4,"y":0.02},{"x":0.5,"y":0}]},
          "mark": {"type": "line", "interpolate": "step-after", "color": "#333333", "strokeWidth": 0.8},
          "encoding": {
            "x": {"field": "x", "type": "quantitative", "scale": {"domain": [-2, 2], "nice": false, "zero": false},
                  "axis": {"orient": "bottom", "values": [-1, 0, 1], "tickSize": -5, "labelPadding": 14.5, "title": "y′MC_median− y′₀", "titleX": 47, "titleY": 23.5, "titleAlign": "center", "titleBaseline": "middle", "titleFontSize": 8.5, "titleFontStyle": "italic"}},
            "y": {"field": "y", "type": "quantitative", "scale": {"domain": [0, 1], "nice": false}, "axis": null}
          }
        },
        {
          "data": {"values": [{"x":-2,"y":0},{"x":-0.54,"y":0.008},{"x":-0.455,"y":0.03},{"x":-0.37,"y":0.092},{"x":-0.285,"y":0.221},{"x":-0.2,"y":0.412},{"x":-0.115,"y":0.6},{"x":-0.03,"y":0.68},{"x":0.055,"y":0.6},{"x":0.14,"y":0.412},{"x":0.225,"y":0.221},{"x":0.31,"y":0.092},{"x":0.395,"y":0.03},{"x":0.48,"y":0.008},{"x":2,"y":0}]},
          "mark": {"type": "line", "color": "#ff2020", "strokeWidth": 1},
          "encoding": {
            "x": {"field": "x", "type": "quantitative", "scale": {"domain": [-2, 2], "nice": false, "zero": false},
                  "axis": {"orient": "bottom", "values": [-1.9,-1.8,-1.7,-1.6,-1.5,-1.4,-1.3,-1.2,-1.1,-0.9,-0.8,-0.7,-0.6,-0.5,-0.4,-0.3,-0.2,-0.1,0.1,0.2,0.3,0.4,0.5,0.6,0.7,0.8,0.9,1.1,1.2,1.3,1.4,1.5,1.6,1.7,1.8,1.9], "tickSize": -2.5, "labels": false, "title": null}},
            "y": {"field": "y", "type": "quantitative", "scale": {"domain": [0, 1], "nice": false}, "axis": null}
          }
        },
        {
          "data": {"values": [{"x":-1.03,"c":"b"},{"x":0.0,"c":"k"},{"x":0.56,"c":"o"},{"x":0.75,"c":"c"}]},
          "mark": {"type": "rule", "strokeWidth": 1.2},
          "encoding": {
            "x": {"field": "x", "type": "quantitative", "scale": {"domain": [-2, 2], "nice": false, "zero": false},
                  "axis": {"orient": "top", "values": [-2, -1, 0, 1, 2], "tickSize": -5, "labels": false, "title": null}},
            "y": {"datum": 0.13, "type": "quantitative", "scale": {"domain": [0, 1], "nice": false}, "axis": null},
            "y2": {"datum": 0.03},
            "color": {"field": "c", "type": "nominal", "legend": null, "scale": {"domain": ["b","k","o","c"], "range": ["#0000ff","#000000","#ff9900","#00ccee"]}}
          }
        },
        {
          "data": {"values": [{"x":-1.03,"c":"b"},{"x":0.0,"c":"k"},{"x":0.56,"c":"o"},{"x":0.75,"c":"c"}]},
          "mark": {"type": "point", "shape": "triangle-down", "filled": true, "size": 18, "opacity": 1},
          "encoding": {
            "x": {"field": "x", "type": "quantitative", "scale": {"domain": [-2, 2], "nice": false, "zero": false},
                  "axis": {"orient": "top", "values": [-1.9,-1.8,-1.7,-1.6,-1.5,-1.4,-1.3,-1.2,-1.1,-0.9,-0.8,-0.7,-0.6,-0.5,-0.4,-0.3,-0.2,-0.1,0.1,0.2,0.3,0.4,0.5,0.6,0.7,0.8,0.9,1.1,1.2,1.3,1.4,1.5,1.6,1.7,1.8,1.9], "tickSize": -2.5, "labels": false, "title": null}},
            "y": {"datum": 0.045, "type": "quantitative", "scale": {"domain": [0, 1], "nice": false}, "axis": null},
            "color": {"field": "c", "type": "nominal", "legend": null, "scale": {"domain": ["b","k","o","c"], "range": ["#0000ff","#000000","#ff9900","#00ccee"]}}
          }
        },
        {
          "data": {"values": [{"x":0,"y":0.78,"t":"σ=0.17"}]},
          "mark": {"type": "text", "fontSize": 9, "font": "DejaVu Sans", "color": "black", "align": "center", "baseline": "middle"},
          "encoding": {
            "x": {"field": "x", "type": "quantitative", "axis": null},
            "y": {"field": "y", "type": "quantitative", "axis": null},
            "text": {"field": "t"}
          }
        }
      ]
    },
    {
      "width": 86, "height": 78,
      "title": {"text": "test box 3", "fontSize": 10, "offset": 3, "anchor": "middle"},
      "resolve": {"axis": {"x": "independent", "y": "independent"}},
      "layer": [
        {
          "data": {"values": [{"x":-0.9,"y":0},{"x":-0.8,"y":0.01},{"x":-0.7,"y":0.03},{"x":-0.6,"y":0.09},{"x":-0.5,"y":0.2},{"x":-0.4,"y":0.32},{"x":-0.3,"y":0.42},{"x":-0.2,"y":0.53},{"x":-0.1,"y":0.56},{"x":0.0,"y":0.48},{"x":0.1,"y":0.33},{"x":0.2,"y":0.18},{"x":0.3,"y":0.07},{"x":0.4,"y":0.02},{"x":0.5,"y":0}]},
          "mark": {"type": "line", "interpolate": "step-after", "color": "#333333", "strokeWidth": 0.8},
          "encoding": {
            "x": {"field": "x", "type": "quantitative", "scale": {"domain": [-2, 2], "nice": false, "zero": false},
                  "axis": {"orient": "bottom", "values": [-1, 0, 1], "tickSize": -5, "labelPadding": 14.5, "title": null}},
            "y": {"field": "y", "type": "quantitative", "scale": {"domain": [0, 1], "nice": false}, "axis": null}
          }
        },
        {
          "data": {"values": [{"x":-2,"y":0},{"x":-0.7,"y":0.007},{"x":-0.6,"y":0.026},{"x":-0.5,"y":0.081},{"x":-0.4,"y":0.195},{"x":-0.3,"y":0.364},{"x":-0.2,"y":0.53},{"x":-0.1,"y":0.6},{"x":0.0,"y":0.53},{"x":0.1,"y":0.364},{"x":0.2,"y":0.195},{"x":0.3,"y":0.081},{"x":0.4,"y":0.026},{"x":0.5,"y":0.007},{"x":2,"y":0}]},
          "mark": {"type": "line", "color": "#ff2020", "strokeWidth": 1},
          "encoding": {
            "x": {"field": "x", "type": "quantitative", "scale": {"domain": [-2, 2], "nice": false, "zero": false},
                  "axis": {"orient": "bottom", "values": [-1.9,-1.8,-1.7,-1.6,-1.5,-1.4,-1.3,-1.2,-1.1,-0.9,-0.8,-0.7,-0.6,-0.5,-0.4,-0.3,-0.2,-0.1,0.1,0.2,0.3,0.4,0.5,0.6,0.7,0.8,0.9,1.1,1.2,1.3,1.4,1.5,1.6,1.7,1.8,1.9], "tickSize": -2.5, "labels": false, "title": null}},
            "y": {"field": "y", "type": "quantitative", "scale": {"domain": [0, 1], "nice": false}, "axis": null}
          }
        },
        {
          "data": {"values": [{"x":-1.76,"c":"b"},{"x":0.0,"c":"k"},{"x":0.72,"c":"o"},{"x":0.95,"c":"c"}]},
          "mark": {"type": "rule", "strokeWidth": 1.2},
          "encoding": {
            "x": {"field": "x", "type": "quantitative", "scale": {"domain": [-2, 2], "nice": false, "zero": false},
                  "axis": {"orient": "top", "values": [-2, -1, 0, 1, 2], "tickSize": -5, "labels": false, "title": null}},
            "y": {"datum": 0.13, "type": "quantitative", "scale": {"domain": [0, 1], "nice": false}, "axis": null},
            "y2": {"datum": 0.03},
            "color": {"field": "c", "type": "nominal", "legend": null, "scale": {"domain": ["b","k","o","c"], "range": ["#0000ff","#000000","#ff9900","#00ccee"]}}
          }
        },
        {
          "data": {"values": [{"x":-1.76,"c":"b"},{"x":0.0,"c":"k"},{"x":0.72,"c":"o"},{"x":0.95,"c":"c"}]},
          "mark": {"type": "point", "shape": "triangle-down", "filled": true, "size": 18, "opacity": 1},
          "encoding": {
            "x": {"field": "x", "type": "quantitative", "scale": {"domain": [-2, 2], "nice": false, "zero": false},
                  "axis": {"orient": "top", "values": [-1.9,-1.8,-1.7,-1.6,-1.5,-1.4,-1.3,-1.2,-1.1,-0.9,-0.8,-0.7,-0.6,-0.5,-0.4,-0.3,-0.2,-0.1,0.1,0.2,0.3,0.4,0.5,0.6,0.7,0.8,0.9,1.1,1.2,1.3,1.4,1.5,1.6,1.7,1.8,1.9], "tickSize": -2.5, "labels": false, "title": null}},
            "y": {"datum": 0.045, "type": "quantitative", "scale": {"domain": [0, 1], "nice": false}, "axis": null},
            "color": {"field": "c", "type": "nominal", "legend": null, "scale": {"domain": ["b","k","o","c"], "range": ["#0000ff","#000000","#ff9900","#00ccee"]}}
          }
        },
        {
          "data": {"values": [{"x":0,"y":0.78,"t":"σ=0.20"}]},
          "mark": {"type": "text", "fontSize": 9, "font": "DejaVu Sans", "color": "black", "align": "center", "baseline": "middle"},
          "encoding": {
            "x": {"field": "x", "type": "quantitative", "axis": null},
            "y": {"field": "y", "type": "quantitative", "axis": null},
            "text": {"field": "t"}
          }
        }
      ]
    }
  ],
  "spacing": 0,
  "bounds": "flush"
}
]
}
